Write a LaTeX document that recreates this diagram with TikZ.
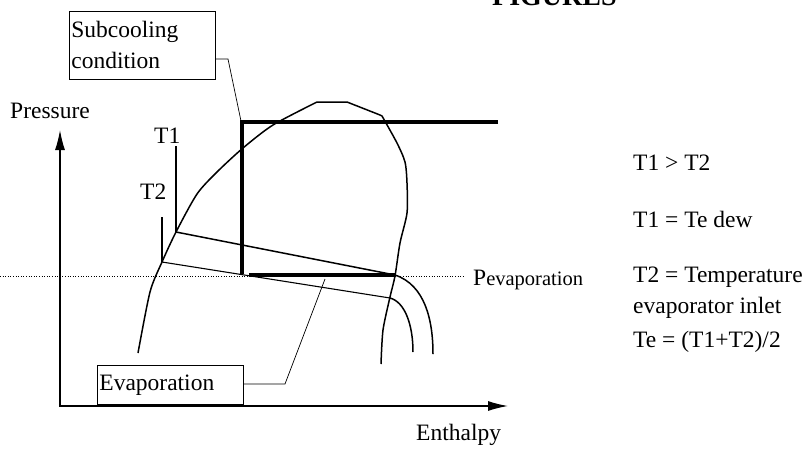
\documentclass[tikz,border=0pt]{standalone}
\usepackage{fontspec}
\setmainfont{Liberation Serif}
\usetikzlibrary{arrows.meta}

\begin{document}
\begin{tikzpicture}[x=1pt, y=-1pt,
    every node/.style={inner sep=0pt, font=\fontsize{23.5}{31}\selectfont},
    lbl/.style={anchor=base west},
    callout/.style={draw, line width=0.8pt, inner sep=2pt, align=left, anchor=north west},
    dome/.style={line width=1.5pt},
    cyc/.style={line width=3.6pt},
    leader/.style={line width=0.7pt},
    axis/.style={line width=1.3pt, {Latex[length=20pt,width=10pt]}-{Latex[length=20pt,width=10pt]}}]
    \useasboundingbox (0,0) rectangle (812,448);

    \node[lbl, font=\bfseries\fontsize{28}{30}\selectfont] (title) at (492,5) {FIGURES};

    \node[callout, minimum width=146pt, minimum height=68pt, text width=142pt] (sub) at (69,11) {Subcooling\\condition};
    \node[callout, minimum width=146pt, minimum height=39pt, text width=142pt] (evap) at (97,365) {Evaporation};

    \node[lbl] (pres) at (10,118) {Pressure};
    \node[lbl] (enth) at (416,440) {Enthalpy};
    \node[lbl] (T1) at (154,143) {T1};
    \node[lbl] (T2) at (140,199) {T2};
    \node[lbl] (pevap) at (473,285) {P{\fontsize{20.5}{24}\selectfont evaporation}};

    \node[lbl] (r1) at (633,170) {T1 > T2};
    \node[lbl] (r2) at (633,227) {T1 = Te dew};
    \node[lbl] (r3) at (633,282) {T2 = Temperature};
    \node[lbl] (r4) at (633,313) {evaporator inlet};
    \node[lbl] (r5) at (633,347) {Te = (T1+T2)/2};

    \coordinate (o) at (60,406);
    \coordinate (ytop) at (60,130);
    \coordinate (xend) at (508,406);
    \coordinate (t1) at (176,232);
    \coordinate (t1top) at (176,146);
    \coordinate (t2) at (162,262);
    \coordinate (t2top) at (162,217);
    \coordinate (p1) at (395,275);
    \coordinate (p2) at (390,298);
    \coordinate (sc1) at (228,59);
    \coordinate (sc2) at (241,121);
    \coordinate (ev1) at (285,384);
    \coordinate (ev2) at (325,279);

    \draw[axis] (ytop) -- (o) -- (xend);
    \draw[line width=0.6pt, dotted] (0,276) -- (465,276);

    \draw[dome] plot[smooth, tension=0.45] coordinates {(138,353) (150,292) (162,262) (176,232) (197,194) (217,172) (243,148) (273,125) (317,102)}
        -- (347,102) -- (380,115)
        -- plot[smooth, tension=0.45] coordinates {(382,116) (397,143) (405,162) (407,183) (407,213) (400,243) (395,276) (390,297) (383,330) (381,364)};
    \draw[dome] (p1) .. controls (425,285) and (433,320) .. (433,354);
    \draw[dome] (p2) .. controls (405,302) and (413,325) .. (413,352);

    \draw[cyc] (498,122) -- (242,122) -- (242,274);
    \draw[cyc] (249,275) -- (p1);

    \draw[dome] (t1) -- (p1);
    \draw[line width=1.1pt] (t2) -- (p2);
    \draw[dome] (t1top) -- (t1);
    \draw[dome] (t2top) -- (t2);

    \draw[leader] (sub.east |- sc1) -- (sc1) -- (sc2);
    \draw[leader] (evap.east |- ev1) -- (ev1) -- (ev2);
\end{tikzpicture}
\end{document}
